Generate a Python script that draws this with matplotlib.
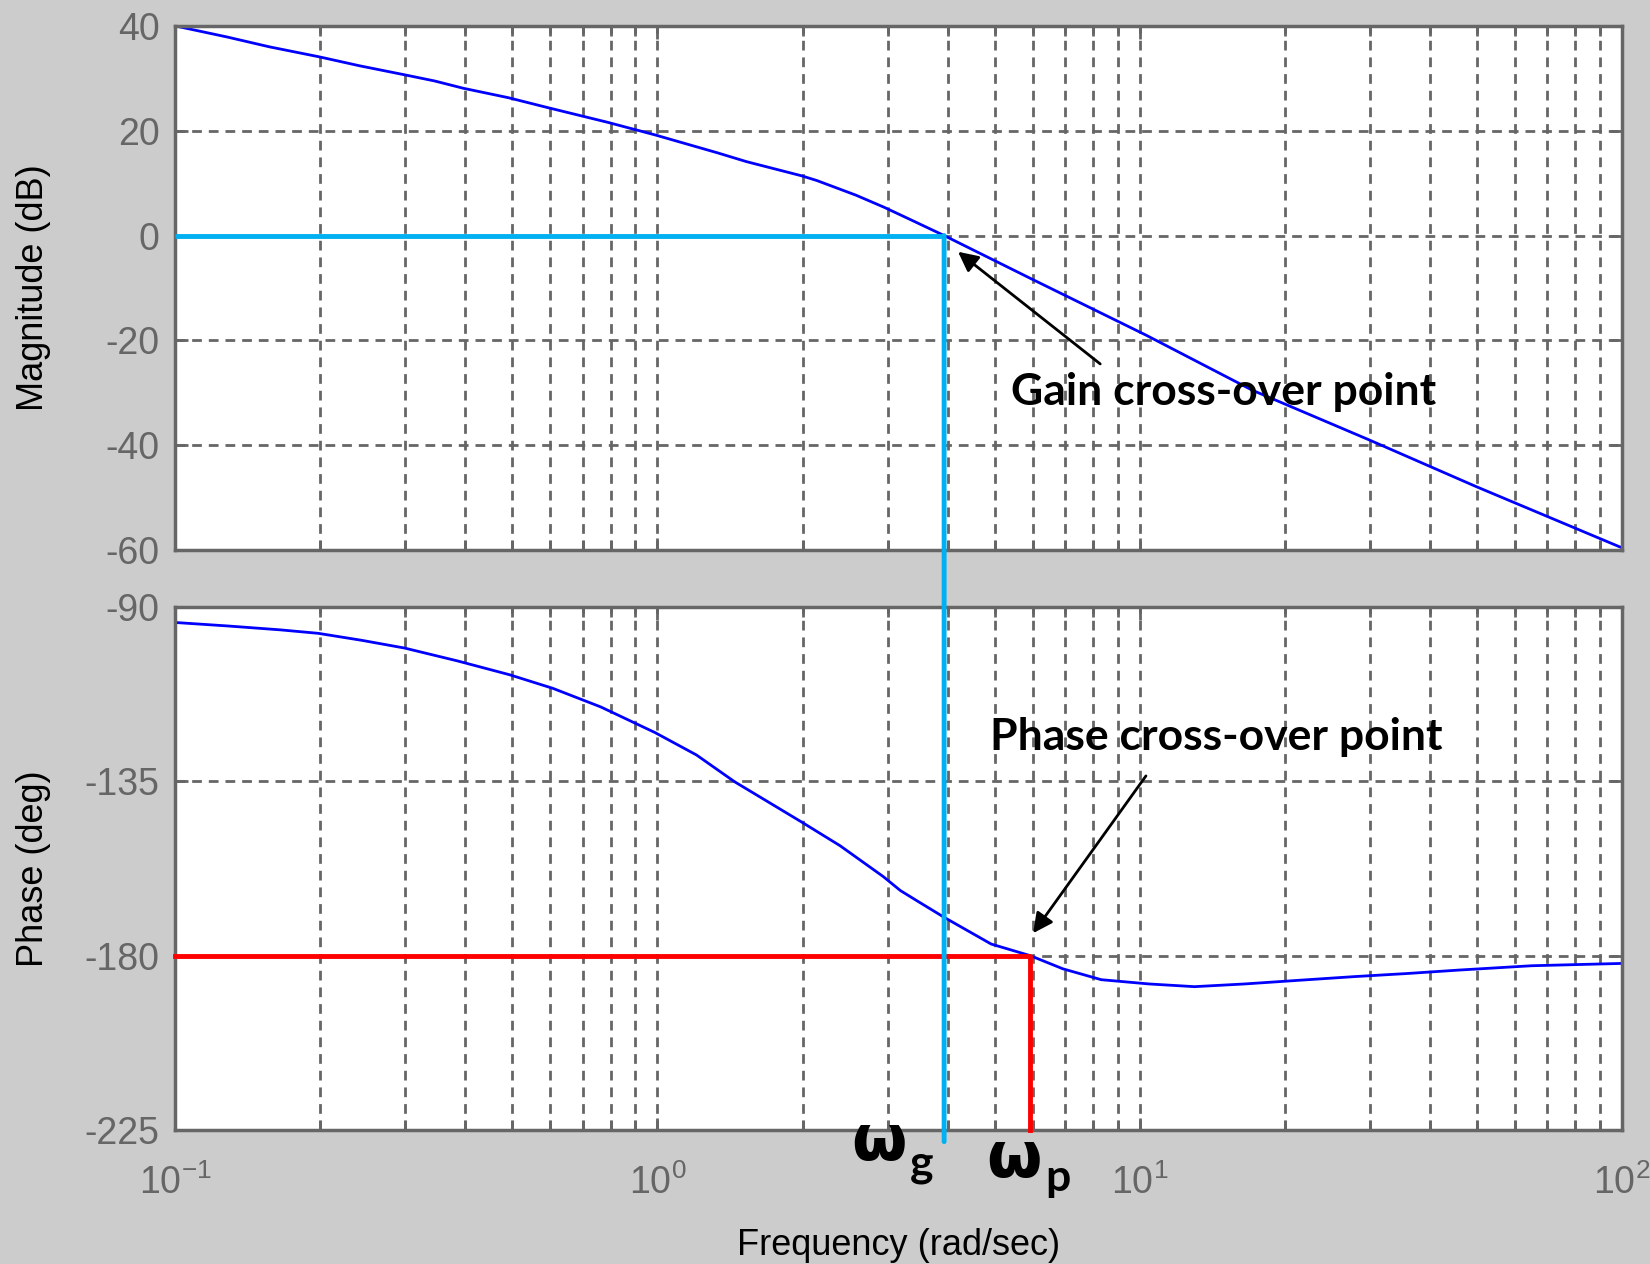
import matplotlib.pyplot as plt
from matplotlib.patches import ConnectionPatch

# values
mag_freq = [0.1, 0.128, 0.157, 0.199, 0.241, 0.298, 0.345, 0.396, 0.491, 0.593,
            0.684, 0.789, 0.989, 1.33, 1.53, 1.99, 2.14, 2.58, 2.95, 3.30,
            3.93, 5.91, 10.3, 17.1, 29.9, 49.8, 100]
mag_db = [40, 37.9, 36.0, 34.1, 32.4, 30.7, 29.5, 28.1, 26.3, 24.4,
          23.0, 21.6, 19.2, 15.8, 14.1, 11.4, 10.5, 7.7, 5.4, 3.3,
          0.0, -8.1, -19.0, -29.5, -39.0, -47.9, -59.6]

phase_freq = [0.1, 0.1285, 0.165, 0.198, 0.2436, 0.299, 0.3844, 0.494, 0.607, 0.763,
              0.988, 1.205, 1.445, 1.696, 1.99, 2.39, 2.94, 3.19, 3.48,
              3.93, 4.92, 5.93, 6.93, 8.32, 10.45, 12.98, 16.5, 21.7, 27.9,
              35.9, 46.1, 64.9, 100]
phase_deg = [-94.0, -94.9, -95.9, -96.8, -98.6, -100.6, -103.9, -107.5, -111.0, -115.8,
             -122.4, -128.2, -135.1, -140.3, -145.5, -151.6, -159.6, -163.2, -166.1,
             -170.1, -177.0, -180.0, -183.4, -186.2, -187.3, -188.0, -187.3, -186.3, -185.4,
             -184.6, -183.7, -182.6, -182.0]

mag_ticks = [40, 20, 0, -20, -40, -60]
phase_ticks = [-90, -135, -180, -225]

w_gain = 3.93    # gain cross-over frequency
w_phase = 5.93   # phase cross-over frequency

GREY = '#666666'
CYAN = '#00b0f0'

plt.rcParams['font.family'] = 'Liberation Sans'
plt.rcParams['mathtext.default'] = 'regular'
plt.rcParams['axes.unicode_minus'] = False

fig = plt.figure(figsize=(16.5, 12.64), dpi=100, facecolor='#cccccc')
ax1 = fig.add_axes([0.1061, 0.5649, 0.8770, 0.4146])
ax2 = fig.add_axes([0.1061, 0.1060, 0.8770, 0.4138])

for ax in (ax1, ax2):
    ax.set_xscale('log')
    ax.set_xlim(0.1, 100)
    ax.set_axisbelow(True)
    ax.grid(True, which='both', axis='x', color=GREY, lw=2, linestyle=(0, (3.5, 2.5)))
    ax.grid(True, which='major', axis='y', color=GREY, lw=2, linestyle=(0, (3.5, 2.5)))
    for sp in ax.spines.values():
        sp.set_color(GREY)
        sp.set_linewidth(2.5)
    ax.tick_params(which='both', direction='in', top=True, right=True,
                   color=GREY, labelcolor=GREY, width=2, labelsize=27, pad=11)
    ax.tick_params(which='major', length=9)
    ax.tick_params(which='minor', length=7)

ax1.plot(mag_freq, mag_db, color='#0000ff', lw=2)
ax1.set_ylim(-60, 40)
ax1.set_yticks(mag_ticks)
ax1.tick_params(labelbottom=False)
ax1.set_ylabel('Magnitude (dB)', fontsize=26, color='black')
ax1.yaxis.set_label_coords(-0.086, 0.5)

ax2.plot(phase_freq, phase_deg, color='#0000ff', lw=2)
ax2.set_ylim(-225, -90)
ax2.set_yticks(phase_ticks)
ax2.tick_params(axis='x', which='major', pad=25)
ax2.set_ylabel('Phase (deg)', fontsize=26, color='black')
ax2.yaxis.set_label_coords(-0.086, 0.5)
ax2.set_xlabel('Frequency (rad/sec)', fontsize=26, color='black')
ax2.xaxis.set_label_coords(0.5, -0.188)

# cross-over guide lines
ax1.plot([0.1, w_gain], [0, 0], color=CYAN, lw=3.5, solid_capstyle='butt', zorder=3)
con = ConnectionPatch(xyA=(w_gain, 0), coordsA=ax1.transData,
                      xyB=(w_gain, -228), coordsB=ax2.transData,
                      color=CYAN, lw=3.5, zorder=5)
fig.add_artist(con)
ax2.plot([0.1, w_phase, w_phase], [-180, -180, -225], color='#ff0000', lw=3.5,
         clip_on=False, zorder=4)

# annotations
arrow = dict(arrowstyle='-|>', color='black', lw=2, mutation_scale=30, shrinkA=0, shrinkB=0)
ax1.annotate('', xy=(4.20, -3.1), xytext=(8.28, -24.5), arrowprops=arrow)
ax1.text(5.42, -32.3, 'Gain cross-over point', fontsize=32, fontweight='bold',
         family=['Lato', 'DejaVu Sans'], ha='left', va='baseline')
ax2.annotate('', xy=(6.01, -174.2), xytext=(10.3, -133.6), arrowprops=arrow)
ax2.text(4.90, -126.9, 'Phase cross-over point', fontsize=32, fontweight='bold',
         family=['Lato', 'DejaVu Sans'], ha='left', va='baseline')

fig.text(851 / 1650, 1 - 1160 / 1264, '\u03c9', fontsize=46, fontweight='bold',
         family=['DejaVu Sans'], ha='left', va='baseline')
fig.text(910 / 1650, 1 - 1176 / 1264, 'g', fontsize=32, fontweight='bold',
         family=['Lato', 'DejaVu Sans'], ha='left', va='baseline')
fig.text(986 / 1650, 1 - 1177 / 1264, '\u03c9', fontsize=46, fontweight='bold',
         family=['DejaVu Sans'], ha='left', va='baseline')
fig.text(1045 / 1650, 1 - 1191 / 1264, 'p', fontsize=32, fontweight='bold',
         family=['Lato', 'DejaVu Sans'], ha='left', va='baseline')

fig.savefig('out.png', dpi=100, facecolor=fig.get_facecolor())
